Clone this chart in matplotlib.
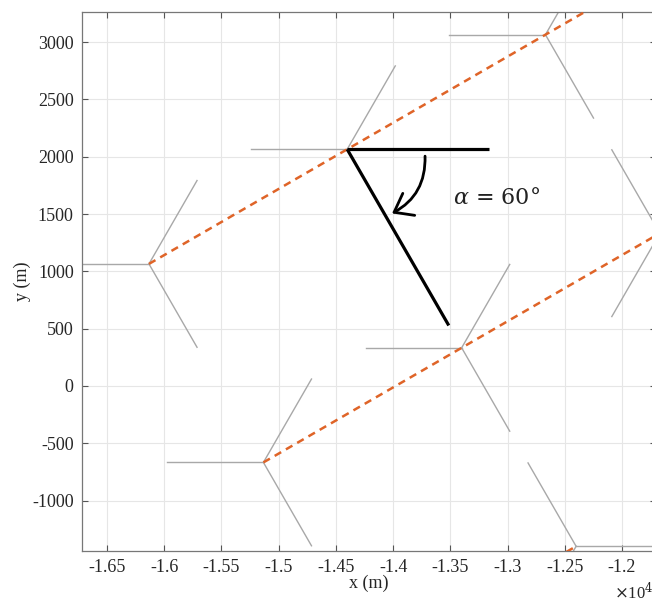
import numpy as np
import matplotlib
matplotlib.use("Agg")
import matplotlib.pyplot as plt
from matplotlib.patches import FancyArrowPatch

# turbine hub positions (m) and which way the three blades point
hub_x = [-16133, -15133, -14401, -13401, -12669, -11669, -12401]
hub_y = [1065, -667, 2065, 333, 3065, 1333, -1399]
hub_flip = [False, False, False, False, False, True, True]
blade_len = 840

# dashed alignment rows (start hub -> end hub)
row_x0 = [-16133, -15133, -14133]
row_y0 = [1065, -667, -2399]
row_x1 = [-10937, -11669, -12401]
row_y1 = [4065, 1333, -1399]

# reference arms at the marked hub for the angle annotation
ref_hub = 2
ref_len = [1240, 1775]
ref_angle = [0, -60]
alpha_deg = 60

xticks = np.arange(-16500, -11999, 500)
xticklabels = ["-1.65", "-1.6", "-1.55", "-1.5", "-1.45", "-1.4",
               "-1.35", "-1.3", "-1.25", "-1.2"]
yticks = np.arange(-1000, 3001, 500)

plt.rcParams["font.family"] = "Liberation Serif"
plt.rcParams["mathtext.fontset"] = "dejavuserif"

fig = plt.figure(figsize=(6.52, 6.03), dpi=100)
ax = fig.add_axes([82 / 652, 52 / 603, 574 / 652, 539 / 603])

gray = "#a8a8a8"
for x, y, flip in zip(hub_x, hub_y, hub_flip):
    angles = [0, 120, 240] if flip else [180, 60, -60]
    for a in angles:
        t = np.deg2rad(a)
        ax.plot([x, x + blade_len * np.cos(t)], [y, y + blade_len * np.sin(t)],
                color=gray, lw=1.0, zorder=2)

for x0, y0, x1, y1 in zip(row_x0, row_y0, row_x1, row_y1):
    ax.plot([x0, x1], [y0, y1], color="#DF6428", lw=1.8, ls=(0, (3, 2.2)), zorder=3)

cx, cy = hub_x[ref_hub], hub_y[ref_hub]
for L, a in zip(ref_len, ref_angle):
    t = np.deg2rad(a)
    ax.plot([cx, cx + L * np.cos(t)], [cy, cy + L * np.sin(t)],
            color="black", lw=2.3, solid_capstyle="butt", zorder=4)

# curved arrow sweeping from the horizontal arm to the slanted one
r = 680
ta, tb = np.deg2rad(-3), np.deg2rad(-57)
arc = FancyArrowPatch((cx + r * np.cos(ta), cy + r * np.sin(ta)),
                      (cx + r * np.cos(tb), cy + r * np.sin(tb)),
                      connectionstyle="arc3,rad=-0.33",
                      arrowstyle="->,head_length=0.6,head_width=0.45",
                      mutation_scale=20, lw=2.0, color="black", zorder=5)
ax.add_patch(arc)
ax.text(-13480, 1640, r"$\alpha$ = %d°" % alpha_deg, fontsize=16,
        family="DejaVu Serif", color="#222222", ha="left", va="center")

ax.set_xlim(-16718, -11703)
ax.set_ylim(-1440, 3263)
ax.set_xticks(xticks)
ax.set_xticklabels(xticklabels)
ax.set_yticks(yticks)
ax.set_yticklabels([str(v) for v in yticks])
ax.tick_params(direction="in", length=4, width=0.8, top=True, right=True,
               labelsize=13, colors="#555555", labelcolor="#262626", pad=6)
ax.grid(True, color="#e6e6e6", lw=0.8)
ax.set_axisbelow(True)
for s in ax.spines.values():
    s.set_color("#777777")
    s.set_linewidth(0.9)

ax.set_xlabel("x (m)", fontsize=13, color="#262626", labelpad=-1)
ax.set_ylabel("y (m)", fontsize=13, color="#262626", labelpad=1)
fig.text(614 / 652, 1 - 592 / 603, r"$\times$10$^4$", fontsize=12,
         color="#262626", va="center", ha="left")

fig.savefig("out.png", dpi=100)
